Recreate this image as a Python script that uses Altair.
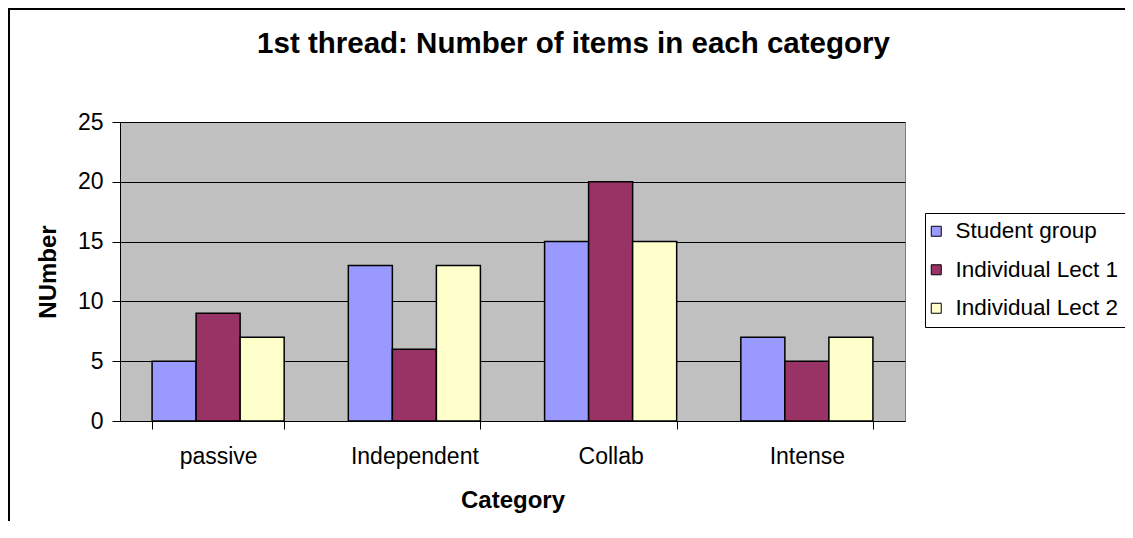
import altair as alt
import pandas as pd

categories = ["passive", "Independent", "Collab", "Intense"]
series = ["Student group", "Individual Lect 1", "Individual Lect 2"]
student_group = [5, 13, 15, 7]
individual_lect_1 = [9, 6, 20, 5]
individual_lect_2 = [7, 13, 15, 7]
colors = ["#9999FF", "#993366", "#FFFFCC"]
y_ticks = [0, 5, 10, 15, 20, 25]

rows = []
for s, vals in zip(series, [student_group, individual_lect_1, individual_lect_2]):
    for c, v in zip(categories, vals):
        rows.append({"Category": c, "Series": s, "Value": v})
df = pd.DataFrame(rows)

FONT = "Liberation Sans"

bars = alt.Chart(df).mark_bar(stroke="black", strokeWidth=1.5, opacity=1).encode(
    x=alt.X(
        "Category:N",
        sort=categories,
        scale=alt.Scale(paddingInner=0.327, paddingOuter=0.1635),
        axis=alt.Axis(
            title="Category",
            labelAngle=0,
            tickBand="extent",
            tickSize=8,
            tickColor="black",
            domainColor="black",
            labelColor="black",
            labelFont=FONT,
            labelFontSize=23,
            labelBaseline="alphabetic",
            labelPadding=34,
            titleFont=FONT,
            titleFontSize=24,
            titleFontWeight="bold",
            titleColor="black",
            titleBaseline="alphabetic",
            titleY=86,
            grid=False,
        ),
    ),
    xOffset=alt.XOffset("Series:N", sort=series, scale=alt.Scale(paddingInner=0, paddingOuter=0)),
    y=alt.Y(
        "Value:Q",
        scale=alt.Scale(domain=[0, 25], nice=False),
        axis=alt.Axis(
            values=y_ticks,
            title="NUmber",
            grid=True,
            gridColor="black",
            gridWidth=1,
            gridOpacity=1,
            tickSize=8,
            tickColor="black",
            domainColor="black",
            labelColor="black",
            labelFont=FONT,
            labelFontSize=23,
            labelPadding=9,
            labelBaseline="middle",
            titleFont=FONT,
            titleFontSize=24,
            titleFontWeight="bold",
            titleColor="black",
            titleAngle=270,
            titleBaseline="alphabetic",
            titleAlign="center",
            titleX=-65,
            titleY=149.5,
        ),
    ),
    color=alt.Color(
        "Series:N",
        sort=series,
        scale=alt.Scale(domain=series, range=colors),
        legend=alt.Legend(
            title=None,
            orient="none",
            legendX=805,
            legendY=91,
            padding=7,
            strokeColor="black",
            fillColor="white",
            symbolType="square",
            symbolSize=100,
            symbolStrokeColor="black",
            symbolStrokeWidth=1,
            symbolOpacity=1,
            symbolOffset=-7,
            labelFont=FONT,
            labelFontSize=22.5,
            labelColor="black",
            labelOffset=8,
            rowPadding=15.5,
            labelLimit=400,
        ),
    ),
)

frame = alt.Chart(pd.DataFrame({"a": [0]})).mark_rect(
    filled=False, stroke="black", strokeWidth=2
).encode(
    x=alt.value(-111), x2=alt.value(1200), y=alt.value(-113), y2=alt.value(1000)
)

chart = alt.layer(bars, frame).properties(
    width=785,
    height=299,
    title=alt.TitleParams(
        "1st thread: Number of items in each category",
        font=FONT,
        fontSize=29.5,
        fontWeight="bold",
        color="black",
        anchor="middle",
        frame="group",
        dx=61,
        baseline="alphabetic",
        offset=-74,
    ),
    autosize=alt.AutoSizeParams(type="none"),
    padding={"left": 112, "top": 114, "right": 220, "bottom": 100},
    background="white",
).configure_view(
    fill="#C0C0C0", stroke="#808080", strokeWidth=1
)

chart.save("out.html", embed_options={"renderer": "svg", "actions": False})
